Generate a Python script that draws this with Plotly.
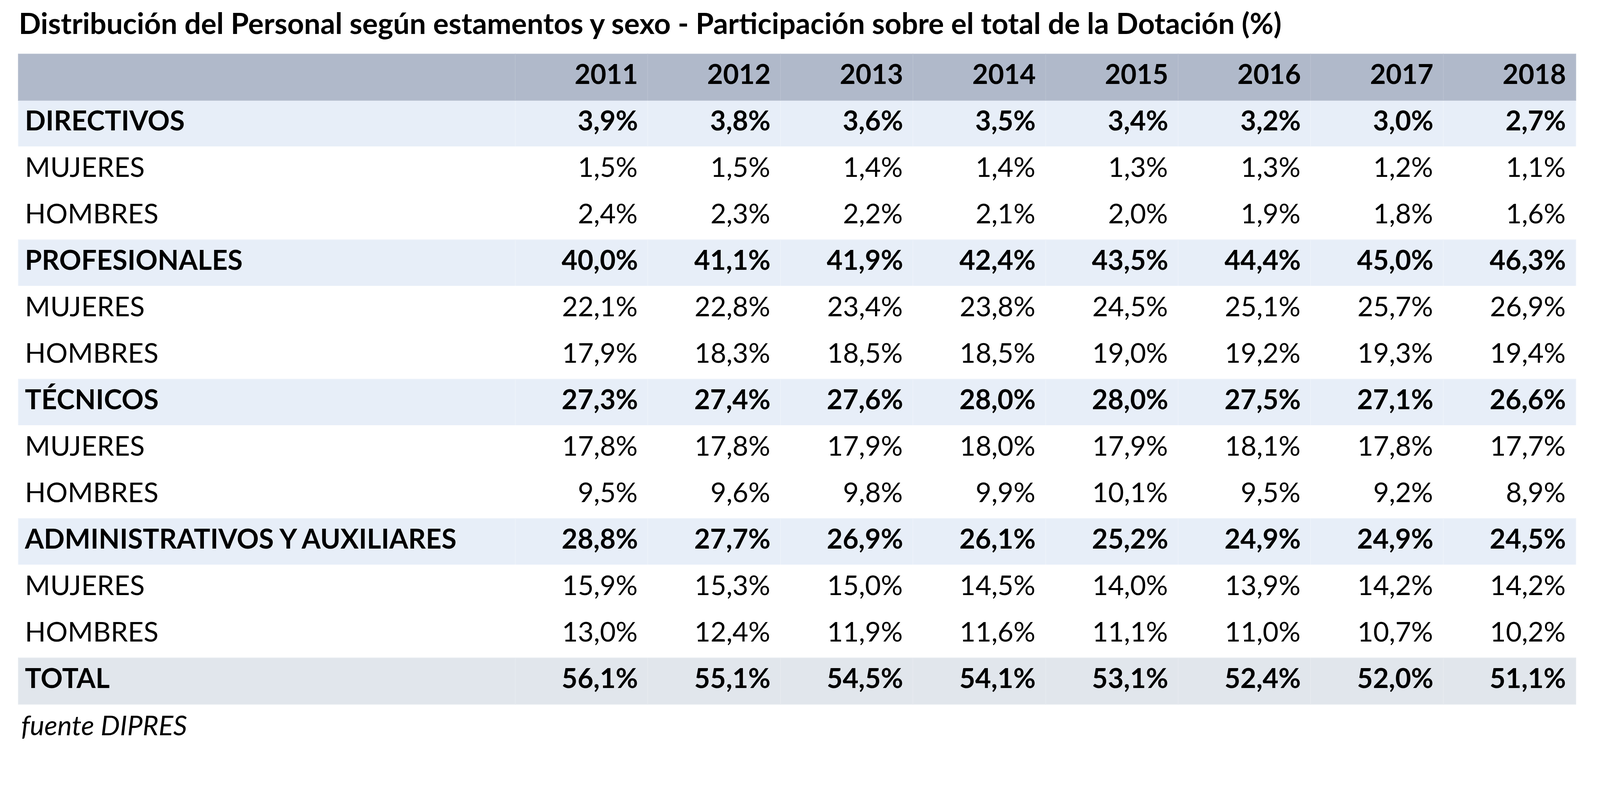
import plotly.graph_objects as go

W, H = 4292, 2036

years = [2011, 2012, 2013, 2014, 2015, 2016, 2017, 2018]

row_labels = ["DIRECTIVOS", "MUJERES", "HOMBRES",
              "PROFESIONALES", "MUJERES", "HOMBRES",
              "TÉCNICOS", "MUJERES", "HOMBRES",
              "ADMINISTRATIVOS Y AUXILIARES", "MUJERES", "HOMBRES",
              "TOTAL"]
# group header row, sub row (mujeres / hombres) or total row
row_kind = ["group", "sub", "sub",
            "group", "sub", "sub",
            "group", "sub", "sub",
            "group", "sub", "sub",
            "total"]

directivos = [3.9, 3.8, 3.6, 3.5, 3.4, 3.2, 3.0, 2.7]
directivos_mujeres = [1.5, 1.5, 1.4, 1.4, 1.3, 1.3, 1.2, 1.1]
directivos_hombres = [2.4, 2.3, 2.2, 2.1, 2.0, 1.9, 1.8, 1.6]
profesionales = [40.0, 41.1, 41.9, 42.4, 43.5, 44.4, 45.0, 46.3]
profesionales_mujeres = [22.1, 22.8, 23.4, 23.8, 24.5, 25.1, 25.7, 26.9]
profesionales_hombres = [17.9, 18.3, 18.5, 18.5, 19.0, 19.2, 19.3, 19.4]
tecnicos = [27.3, 27.4, 27.6, 28.0, 28.0, 27.5, 27.1, 26.6]
tecnicos_mujeres = [17.8, 17.8, 17.9, 18.0, 17.9, 18.1, 17.8, 17.7]
tecnicos_hombres = [9.5, 9.6, 9.8, 9.9, 10.1, 9.5, 9.2, 8.9]
administrativos = [28.8, 27.7, 26.9, 26.1, 25.2, 24.9, 24.9, 24.5]
administrativos_mujeres = [15.9, 15.3, 15.0, 14.5, 14.0, 13.9, 14.2, 14.2]
administrativos_hombres = [13.0, 12.4, 11.9, 11.6, 11.1, 11.0, 10.7, 10.2]
total = [56.1, 55.1, 54.5, 54.1, 53.1, 52.4, 52.0, 51.1]

rows = [directivos, directivos_mujeres, directivos_hombres,
        profesionales, profesionales_mujeres, profesionales_hombres,
        tecnicos, tecnicos_mujeres, tecnicos_hombres,
        administrativos, administrativos_mujeres, administrativos_hombres,
        total]

FONT = "Lato"
fill_of = {"group": "#E7EEF8", "sub": "#FFFFFF", "total": "#E1E6EC"}
line_of = {"group": "#EDF2FA", "sub": "#FFFFFF", "total": "#E6EAEF"}

# table frame, in page pixels
left, right = 39, 4026
top = 130.4
row_h = 119
first_w = 1272
n_rows = len(rows) + 1
bottom = top + n_rows * row_h
year_w = (right - left - first_w) / len(years)


def styled(s, bold):
    # every cell goes through markup so all rows sit at the same height
    return f"<b>{s}</b>" if bold else f"<span>{s}</span>"


def fmt(v, bold):
    return styled(f"{v:.1f}".replace(".", ",") + "%\u00a0", bold)


label_col = [styled("\u2009" + lab, kind != "sub") for lab, kind in zip(row_labels, row_kind)]

year_cols = []
for j in range(len(years)):
    year_cols.append([fmt(r[j], k != "sub") for r, k in zip(rows, row_kind)])

fills = [fill_of[k] for k in row_kind]
lines = [line_of[k] for k in row_kind]

fig = go.Figure()
fig.add_trace(go.Table(
    domain=dict(x=[left / W, right / W], y=[1 - bottom / H, 1 - top / H]),
    columnwidth=[first_w] + [year_w] * len(years),
    header=dict(
        values=[""] + [f"<b>{y}\u00a0</b>" for y in years],
        fill_color="#B0B9CA",
        line=dict(color="#B8C0CF", width=2),
        align=["left"] + ["right"] * len(years),
        font=dict(family=FONT, size=70, color="black"),
        height=row_h,
    ),
    cells=dict(
        values=[label_col] + year_cols,
        fill_color=[fills] * (len(years) + 1),
        line=dict(color=[lines] * (len(years) + 1), width=2),
        align=["left"] + ["right"] * len(years),
        font=dict(family=FONT, size=70, color="black"),
        height=row_h,
    ),
))

fig.add_annotation(
    text="<b>Distribución del Personal según estamentos y sexo - Participación sobre el total de la Dotación (%)</b>",
    xref="paper", yref="paper", x=38 / W, y=1 - 50 / H,
    xanchor="left", yanchor="middle", showarrow=False,
    font=dict(family=FONT, size=74.5, color="black"),
)
fig.add_annotation(
    text="<i>fuente DIPRES</i>",
    xref="paper", yref="paper", x=44 / W, y=1 - 1848 / H,
    xanchor="left", yanchor="middle", showarrow=False,
    font=dict(family=FONT, size=70, color="black"),
)

fig.update_layout(
    width=W, height=H,
    margin=dict(l=0, r=0, t=0, b=0),
    paper_bgcolor="white",
    plot_bgcolor="white",
)

fig.write_html("out.html")
